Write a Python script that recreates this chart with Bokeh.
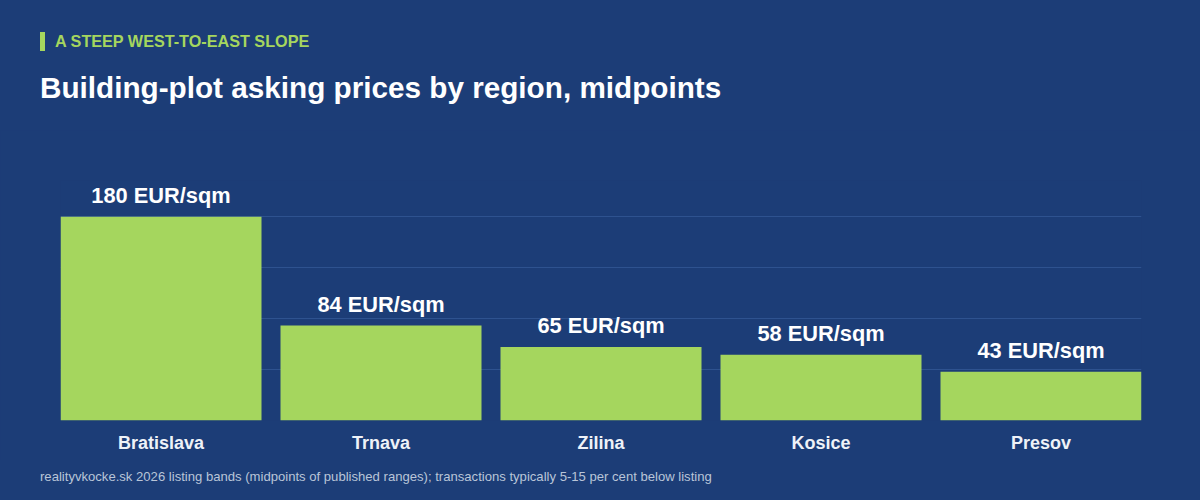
from bokeh.plotting import figure
from bokeh.models import ColumnDataSource, Range1d, FixedTicker, Div
from bokeh.layouts import column
from bokeh.core.properties import value
from bokeh.embed import file_html
from bokeh.resources import INLINE

# Building-plot asking prices, midpoints of published listing bands (EUR per sqm)
regions = ["Bratislava", "Trnava", "Zilina", "Kosice", "Presov"]
prices = [180, 84, 65, 58, 43]
grid_ticks = [45, 90, 135, 180]

kicker = "A STEEP WEST-TO-EAST SLOPE"
headline = "Building-plot asking prices by region, midpoints"
source_note = ("realityvkocke.sk 2026 listing bands (midpoints of published ranges); "
               "transactions typically 5-15 per cent below listing")

BG = "#1c3d77"
GREEN = "#a5d65e"
GRID = "#2e528f"
FONT = "Liberation Sans"

xpos = [i + 0.5 for i in range(len(regions))]
src = ColumnDataSource(dict(
    x=xpos,
    price=prices,
    label=[f"{v} EUR/sqm" for v in prices],
))

bar_w = 201 / 220
pad = (1 - bar_w) / 2

p = figure(width=1200, height=330, output_backend="svg", toolbar_location=None,
           x_range=Range1d(pad, len(regions) - pad), y_range=Range1d(0, 212),
           min_border_left=60, min_border_right=59, min_border_top=50,
           min_border_bottom=40)
p.background_fill_color = None
p.border_fill_color = BG
p.outline_line_color = None

p.vbar(x="x", top="price", width=bar_w, source=src, fill_color=GREEN, line_color=None)
p.text(x="x", y="price", text="label", source=src, text_align="center",
       text_baseline="alphabetic", y_offset=-21, text_color="white",
       text_font=value(FONT), text_font_style="bold", text_font_size="21.8px")

# axes and grid
p.yaxis.visible = False
p.ygrid.ticker = FixedTicker(ticks=grid_ticks)
p.ygrid.grid_line_color = GRID
p.ygrid.grid_line_width = 1
p.xgrid.grid_line_color = None

xa = p.xaxis[0]
xa.ticker = FixedTicker(ticks=xpos)
xa.major_label_overrides = {x: r for x, r in zip(xpos, regions)}
xa.axis_line_color = None
xa.major_tick_line_color = None
xa.minor_tick_line_color = None
xa.major_label_text_color = "#eef2f8"
xa.major_label_text_font = FONT
xa.major_label_text_font_style = "bold"
xa.major_label_text_font_size = "18px"
xa.major_label_standoff = 6

# heading block
header = Div(width=1200, height=130, styles={"margin": "0", "padding": "0"}, text=f"""
<div style="position:relative;width:1200px;height:130px;font-family:'{FONT}';">
  <div style="position:absolute;left:40px;top:32px;height:19px;border-left:5px solid {GREEN};
              padding-left:10px;color:{GREEN};font-weight:bold;font-size:16.2px;line-height:19px;
              white-space:nowrap;">{kicker}</div>
  <div style="position:absolute;left:40px;top:70px;color:#ffffff;font-weight:bold;
              font-size:29.7px;line-height:36px;white-space:nowrap;">{headline}</div>
</div>""")

# source note
footer = Div(width=1200, height=40, styles={"margin": "0", "padding": "0"}, text=f"""
<div style="position:relative;width:1200px;height:40px;font-family:'{FONT}';">
  <div style="position:absolute;left:40px;top:9px;color:#b9c5d8;font-size:13.1px;
              line-height:16px;white-space:nowrap;">{source_note}</div>
</div>""")

page = column(header, p, footer, spacing=0,
              styles={"background-color": BG, "margin": "0"})

open("out.html", "w").write(file_html(page, INLINE))
